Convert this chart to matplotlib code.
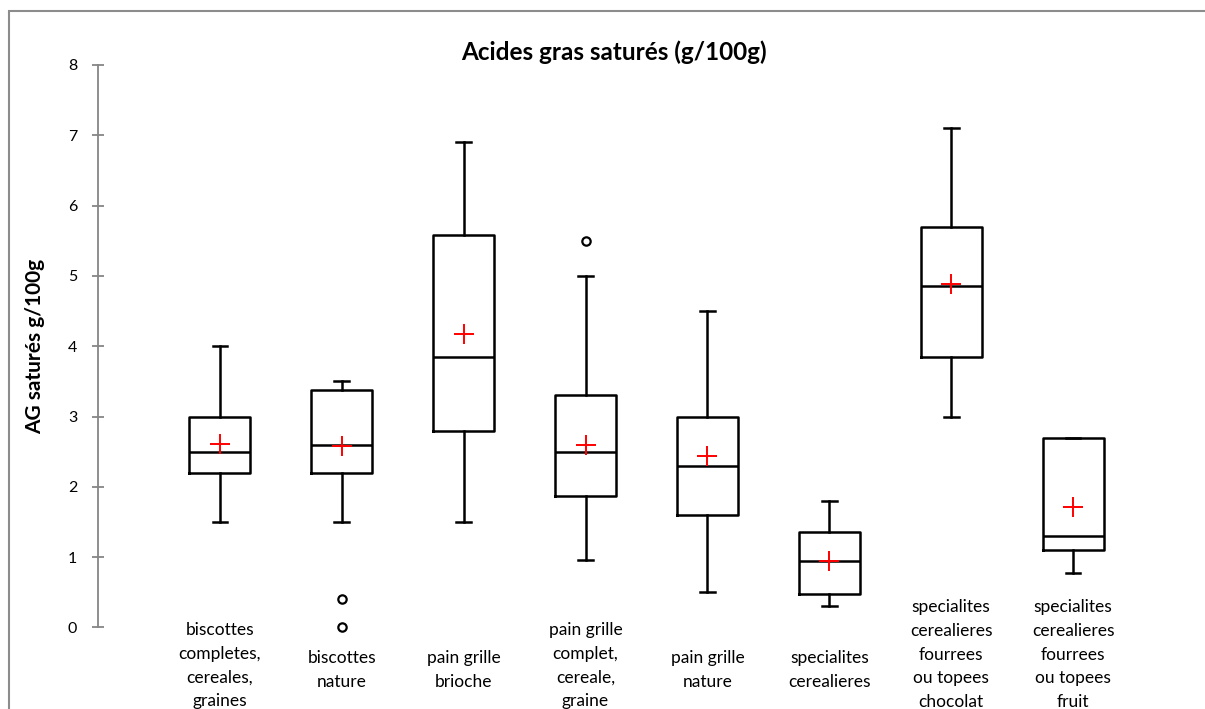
import numpy as np
import matplotlib
matplotlib.use("Agg")
from matplotlib import pyplot as plt
from matplotlib.patches import Rectangle

plt.rcParams["font.family"] = ["Lato", "DejaVu Sans"]

# Categories and box statistics (g/100g)
categories = [
    "biscottes\ncompletes,\ncereales,\ngraines",
    "biscottes\nnature",
    "pain grille\nbrioche",
    "pain grille\ncomplet,\ncereale,\ngraine",
    "pain grille\nnature",
    "specialites\ncerealieres",
    "specialites\ncerealieres\nfourrees\nou topees\nchocolat",
    "specialites\ncerealieres\nfourrees\nou topees\nfruit",
]
whisker_low = [1.5, 1.5, 1.5, 0.96, 0.5, 0.3, 3.0, 0.78]
q1 = [2.2, 2.2, 2.8, 1.87, 1.6, 0.47, 3.85, 1.1]
median = [2.5, 2.6, 3.85, 2.5, 2.3, 0.95, 4.85, 1.3]
q3 = [3.0, 3.37, 5.58, 3.3, 3.0, 1.35, 5.7, 2.7]
whisker_high = [4.0, 3.5, 6.9, 5.0, 4.5, 1.8, 7.1, 2.7]
means = [2.61, 2.58, 4.18, 2.6, 2.44, 0.95, 4.88, 1.71]
outliers = [[], [0.4, 0.0], [], [5.5], [], [], [], []]

# centre of the first line of each label, in pixels from the top
label_first_px = [632, 660, 660, 632, 660, 660, 609, 609]

W, H = 1205, 709
fig = plt.figure(figsize=(W / 100, H / 100), dpi=100)

# chart frame
fig.patches.append(Rectangle((9 / W, -0.1), 1.2, 1.1 - 11 / H, transform=fig.transFigure,
                             fill=False, edgecolor="#8c8c8c", linewidth=1.5))

y0_px, y8_px = 627.4, 65
ax = fig.add_axes([98 / W, (H - y0_px) / H, 1097 / W, (y0_px - y8_px) / H])

stats = []
for i in range(len(categories)):
    stats.append(dict(whislo=whisker_low[i], q1=q1[i], med=median[i], q3=q3[i],
                      whishi=whisker_high[i], mean=means[i], fliers=outliers[i]))

positions = np.arange(1, len(categories) + 1)
line = dict(color="black", linewidth=1.8)
art = ax.bxp(stats, positions=positions, widths=0.5, capwidths=0.12, showmeans=True,
             boxprops=line, whiskerprops=line, capprops=line, medianprops=line,
             meanprops=dict(marker="+", markersize=15, markeredgecolor="red",
                            markeredgewidth=1.4, linestyle="none"),
             flierprops=dict(marker="o", markersize=6, markerfacecolor="white",
                             markeredgecolor="black", markeredgewidth=1.6))
for f in art["fliers"]:
    f.set_clip_on(False)

ax.set_xlim(0, 9)
ax.set_ylim(0, 8)
ax.set_yticks(range(0, 9))
ax.set_xticks([])
for s in ["top", "right", "bottom"]:
    ax.spines[s].set_visible(False)
ax.spines["left"].set_color("#868686")
ax.spines["left"].set_linewidth(1.3)
ax.tick_params(axis="y", direction="inout", length=8, width=1.3, color="#868686",
               pad=11, labelsize=11.5)

for pos, text, first in zip(positions, categories, label_first_px):
    x_fig = ax.transData.transform((pos, 0))[0] / W
    fig.text(x_fig, 1 - (first - 10) / H, text, ha="center", va="top", fontsize=12.5,
             linespacing=1.6)

fig.text(614 / W, 1 - 52 / H, "Acides gras saturés (g/100g)", ha="center", va="center",
         fontsize=17.5, fontweight="bold")
fig.text(35 / W, 1 - 346 / H, "AG saturés g/100g", ha="center", va="center",
         rotation=90, fontsize=15, fontweight="bold")

fig.savefig("out.png", dpi=100)
